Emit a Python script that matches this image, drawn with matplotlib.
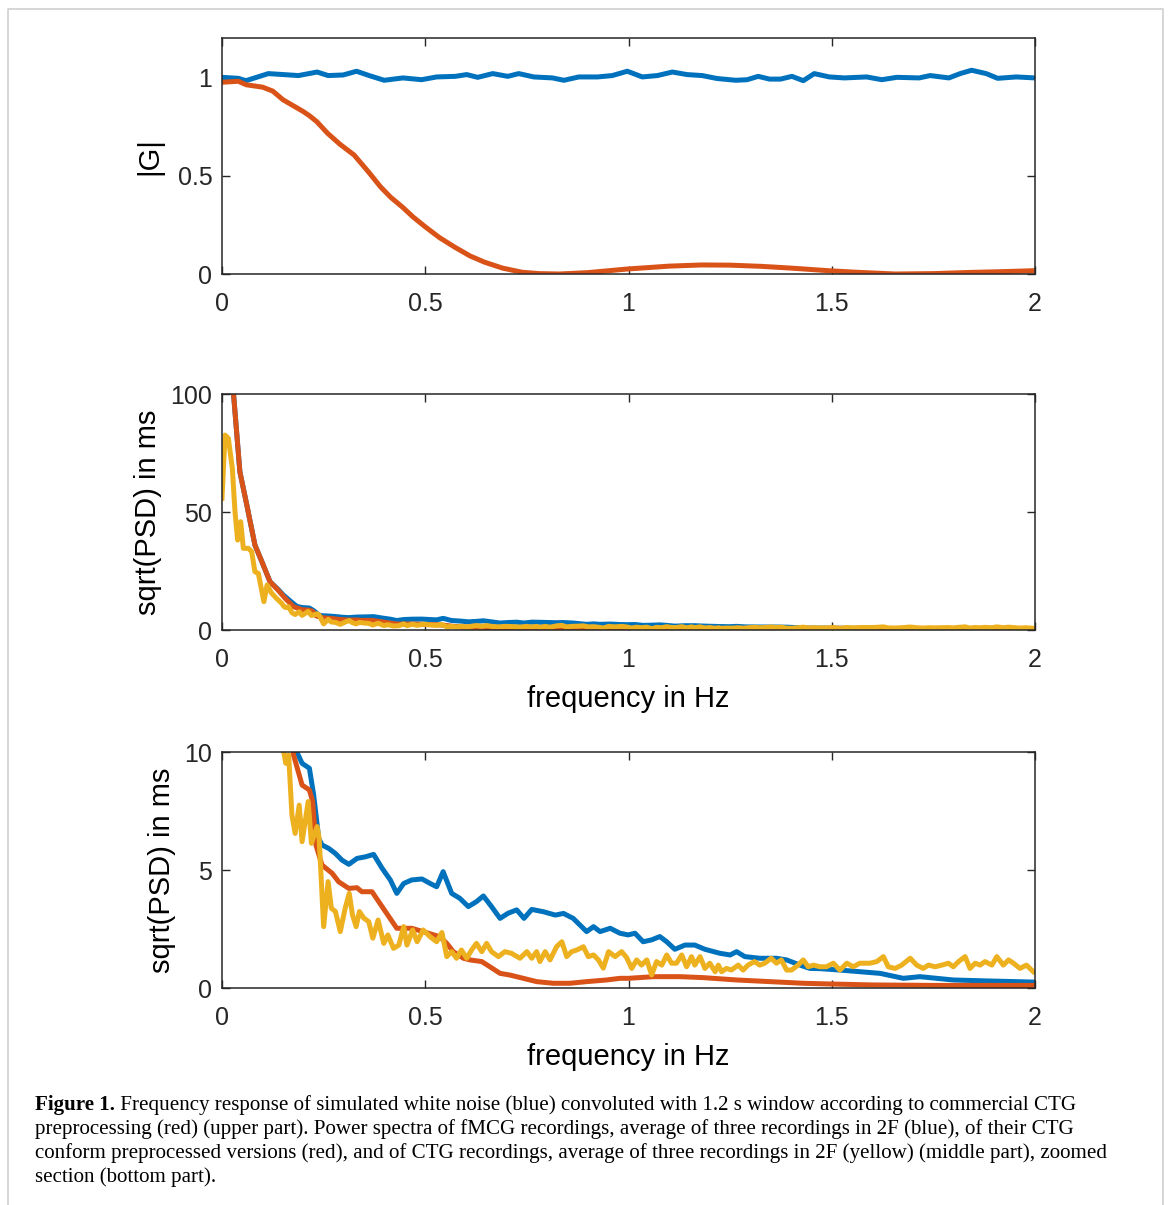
import matplotlib.pyplot as plt
from matplotlib.ticker import FormatStrFormatter
from matplotlib.lines import Line2D

plt.rcParams['font.family'] = ['Liberation Sans', 'DejaVu Sans']

# colours (MATLAB default order)
c_blue = '#0072BD'
c_red = '#D95319'
c_yel = '#EDB120'

# --- upper part: |G| of white noise and of CTG-preprocessed noise
g_noise_f = [0.0, 0.04, 0.059, 0.114, 0.188, 0.234, 0.261, 0.298, 0.331, 0.362, 0.399, 0.445,
             0.491, 0.528, 0.574, 0.602, 0.629, 0.666, 0.703, 0.73, 0.767, 0.813, 0.841, 0.878,
             0.924, 0.96, 0.997, 1.034, 1.071, 1.108, 1.144, 1.181, 1.218, 1.264, 1.292, 1.319,
             1.347, 1.374, 1.402, 1.43, 1.457, 1.494, 1.531, 1.586, 1.623, 1.66, 1.715, 1.742,
             1.788, 1.816, 1.844, 1.88, 1.908, 1.954, 2.0]
g_noise = [1.0, 0.995, 0.983, 1.019, 1.009, 1.027, 1.009, 1.012, 1.031, 1.009, 0.985, 0.997,
           0.988, 1.002, 1.005, 1.014, 1.0, 1.019, 1.005, 1.019, 1.002, 0.997, 0.985, 1.002,
           1.002, 1.009, 1.031, 1.002, 1.009, 1.027, 1.014, 1.009, 0.994, 0.985, 0.988, 1.005,
           0.991, 0.991, 1.005, 0.983, 1.019, 1.002, 0.997, 1.002, 0.988, 1.0, 0.997, 1.009,
           0.997, 1.019, 1.036, 1.019, 0.995, 1.002, 0.997]

g_ctg_f = [0.0, 0.04, 0.06, 0.1, 0.125, 0.15, 0.2, 0.215, 0.233, 0.26, 0.29, 0.325, 0.36,
           0.39, 0.415, 0.444, 0.47, 0.5, 0.535, 0.573, 0.61, 0.646, 0.69, 0.738, 0.78, 0.83,
           0.9, 0.995, 1.1, 1.18, 1.25, 1.326, 1.4, 1.49, 1.56, 1.656, 1.75, 1.84, 1.92, 2.0]
g_ctg = [0.975, 0.98, 0.962, 0.95, 0.93, 0.886, 0.826, 0.805, 0.775, 0.715, 0.66, 0.605, 0.52,
         0.443, 0.39, 0.34, 0.29, 0.24, 0.185, 0.136, 0.092, 0.06, 0.03, 0.009, 0.002, 0.0,
         0.007, 0.025, 0.04, 0.046, 0.045, 0.039, 0.03, 0.017, 0.009, 0.0, 0.002, 0.008, 0.012,
         0.017]

# --- middle / bottom part: sqrt(PSD) in ms
fmcg_f = [0.0, 0.0279, 0.044, 0.061, 0.081, 0.098, 0.118, 0.138, 0.151, 0.17, 0.184, 0.197,
          0.215, 0.2255, 0.238, 0.246, 0.262, 0.279, 0.295, 0.312, 0.332, 0.353, 0.373, 0.394,
          0.414, 0.43, 0.447, 0.467, 0.492, 0.512, 0.528, 0.544, 0.565, 0.585, 0.606, 0.626,
          0.643, 0.663, 0.684, 0.704, 0.725, 0.743, 0.762, 0.791, 0.82, 0.84, 0.864, 0.897,
          0.914, 0.93, 0.955, 0.979, 0.999, 1.016, 1.036, 1.057, 1.077, 1.094, 1.114, 1.139,
          1.163, 1.188, 1.225, 1.25, 1.266, 1.286, 1.323, 1.364, 1.389, 1.422, 1.446, 1.471,
          1.52, 1.619, 1.676, 1.717, 1.758, 1.799, 1.881, 2.0]
fmcg = [150, 101, 67, 53, 36, 29, 20.5, 17.2, 14.8, 12.0, 10.0, 9.52,
        9.31, 8.18, 6.34, 6.06, 5.92, 5.7, 5.42, 5.24, 5.49, 5.56, 5.66, 5.07,
        4.58, 4.01, 4.43, 4.58, 4.62, 4.43, 4.29, 4.93, 4.01, 3.8, 3.45, 3.66,
        3.9, 3.45, 2.95, 3.17, 3.31, 2.95, 3.33, 3.23, 3.09, 3.16, 2.95, 2.39,
        2.6, 2.39, 2.53, 2.32, 2.25, 2.32, 1.96, 2.04, 2.18, 1.96, 1.64, 1.82,
        1.82, 1.64, 1.47, 1.4, 1.54, 1.33, 1.26, 1.26, 1.19, 0.97, 0.83, 0.82,
        0.76, 0.62, 0.41, 0.48, 0.41, 0.34, 0.3, 0.25]

conf_f = [0.0, 0.0279, 0.044, 0.061, 0.081, 0.098, 0.118, 0.138, 0.155, 0.176, 0.197, 0.215,
          0.223, 0.231, 0.246, 0.271, 0.287, 0.312, 0.332, 0.344, 0.369, 0.402, 0.43, 0.467,
          0.508, 0.536, 0.553, 0.569, 0.594, 0.61, 0.639, 0.659, 0.684, 0.708, 0.741, 0.774,
          0.815, 0.856, 0.897, 0.946, 0.979, 1.0, 1.061, 1.127, 1.184, 1.266, 1.348, 1.43,
          1.496, 1.6, 1.75, 2.0]
conf = [150, 101, 67, 53, 36, 29, 20.5, 16.9, 13.5, 9.87, 8.6, 8.39,
        7.9, 6.06, 5.21, 4.86, 4.5, 4.22, 4.25, 4.08, 4.08, 3.24, 2.53, 2.53,
        2.32, 2.17, 1.89, 1.54, 1.26, 1.19, 1.12, 0.9, 0.62, 0.55, 0.41, 0.27,
        0.2, 0.2, 0.27, 0.34, 0.41, 0.41, 0.48, 0.48, 0.44, 0.34, 0.27, 0.2,
        0.17, 0.13, 0.11, 0.11]

ctg_f = [0.0, 0.0074, 0.0156, 0.0254, 0.032, 0.0385, 0.046, 0.0525, 0.0648, 0.073, 0.081,
         0.0894, 0.103, 0.111, 0.122, 0.134, 0.147, 0.152, 0.157, 0.164, 0.172, 0.18, 0.19,
         0.197, 0.212, 0.22, 0.234, 0.239, 0.25, 0.261, 0.269, 0.279, 0.291, 0.303, 0.313,
         0.321, 0.33, 0.338, 0.349, 0.361, 0.371, 0.384, 0.398, 0.408, 0.422, 0.435, 0.447,
         0.455, 0.469, 0.48, 0.495, 0.512, 0.528, 0.541, 0.553, 0.565, 0.577, 0.589, 0.602,
         0.614, 0.626, 0.639, 0.651, 0.663, 0.68, 0.696, 0.712, 0.733, 0.75, 0.762, 0.774,
         0.782, 0.795, 0.807, 0.823, 0.836, 0.848, 0.86, 0.873, 0.889, 0.901, 0.914, 0.926,
         0.938, 0.951, 0.967, 0.983, 0.995, 1.008, 1.02, 1.032, 1.045, 1.057, 1.069, 1.082,
         1.094, 1.106, 1.118, 1.131, 1.143, 1.155, 1.163, 1.176, 1.188, 1.2, 1.213, 1.221,
         1.229, 1.241, 1.253, 1.27, 1.282, 1.294, 1.31, 1.323, 1.335, 1.351, 1.364, 1.376,
         1.389, 1.401, 1.417, 1.43, 1.442, 1.455, 1.471, 1.487, 1.504, 1.52, 1.537, 1.553,
         1.569, 1.594, 1.611, 1.627, 1.639, 1.656, 1.672, 1.693, 1.709, 1.725, 1.738, 1.754,
         1.771, 1.787, 1.799, 1.812, 1.828, 1.84, 1.853, 1.865, 1.877, 1.894, 1.906, 1.922,
         1.935, 1.947, 1.963, 1.979, 1.996]
ctg = [55.8, 82.6, 81.2, 68.5, 50.1, 38.1, 45.9, 34.6, 34.6, 33.2, 24.7,
       24.0, 12.0, 19.1, 15.6, 13.4, 11.3, 10.0, 9.52, 9.87, 7.33, 6.55, 7.75,
       6.2, 7.9, 6.13, 6.84, 6.34, 2.6, 4.51, 3.38, 3.24, 2.39, 3.38, 4.01,
       3.1, 2.6, 3.24, 2.96, 2.81, 2.11, 2.88, 1.89, 2.25, 1.68, 1.82, 2.6,
       1.82, 2.46, 1.96, 2.46, 2.17, 1.96, 2.35, 1.33, 1.54, 1.26, 1.61, 1.26,
       1.61, 1.89, 1.54, 1.89, 1.54, 1.33, 1.54, 1.47, 1.26, 1.54, 1.26, 1.54,
       1.12, 1.54, 1.19, 1.75, 1.96, 1.33, 1.54, 1.61, 1.75, 1.33, 1.4, 1.19,
       0.84, 1.54, 1.33, 1.54, 1.3, 0.83, 1.19, 0.97, 1.19, 0.55, 1.12, 0.97,
       1.4, 1.05, 1.05, 1.4, 0.9, 1.33, 0.97, 1.33, 0.83, 1.05, 0.69, 0.97,
       0.69, 0.83, 0.76, 0.97, 0.76, 0.97, 1.12, 0.97, 1.05, 1.26, 1.05, 1.19,
       0.76, 0.76, 0.97, 1.19, 0.9, 0.97, 0.9, 0.9, 1.05, 0.76, 1.05, 0.9,
       1.05, 1.05, 1.12, 1.33, 0.9, 0.83, 0.97, 1.26, 0.97, 0.83, 0.97, 0.9,
       0.97, 1.05, 0.9, 1.12, 1.33, 0.83, 1.05, 0.97, 1.12, 0.97, 1.33, 0.97,
       1.19, 1.05, 0.83, 0.97, 0.69]

xticks = [0, 0.5, 1, 1.5, 2]

caption_lines = [
    "Frequency response of simulated white noise (blue) convoluted with 1.2 s window according to commercial CTG",
    "preprocessing (red) (upper part). Power spectra of fMCG recordings, average of three recordings in 2F (blue), of their CTG",
    "conform preprocessed versions (red), and of CTG recordings, average of three recordings in 2F (yellow) (middle part), zoomed",
    "section (bottom part).",
]

W, H = 1170, 1205
fig = plt.figure(figsize=(W / 100, H / 100), dpi=100)

def px_axes(top, bottom):
    return [222 / W, 1 - bottom / H, 813 / W, (bottom - top) / H]

ax1 = fig.add_axes(px_axes(38, 274))
ax2 = fig.add_axes(px_axes(394, 630))
ax3 = fig.add_axes(px_axes(752, 988))

lw = 3.6
ax1.plot(g_noise_f, g_noise, color=c_blue, lw=lw)
ax1.plot(g_ctg_f, g_ctg, color=c_red, lw=lw)
ax1.set_ylim(0, 1.2)
ax1.set_yticks([0, 0.5, 1])
ax1.set_ylabel('|G|', fontsize=21, labelpad=10)

for ax in (ax2, ax3):
    ax.plot(fmcg_f, fmcg, color=c_blue, lw=lw)
    ax.plot(conf_f, conf, color=c_red, lw=lw)
    ax.plot(ctg_f, ctg, color=c_yel, lw=lw)
    ax.set_ylabel('sqrt(PSD) in ms', fontsize=21, labelpad=6)
    ax.set_xlabel('frequency in Hz', fontsize=21, labelpad=9)
ax2.set_ylim(0, 100)
ax2.set_yticks([0, 50, 100])
ax3.set_ylim(0, 10)
ax3.set_yticks([0, 5, 10])

for ax in (ax1, ax2, ax3):
    ax.set_xlim(0, 2)
    ax.set_xticks(xticks)
    ax.xaxis.set_major_formatter(FormatStrFormatter('%g'))
    ax.yaxis.set_major_formatter(FormatStrFormatter('%g'))
    ax.tick_params(direction='in', top=True, right=True, length=6, width=1,
                   labelsize=18, colors='#262626')
    ax.tick_params(axis='x', pad=13)
    ax.tick_params(axis='y', pad=7)
    for s in ax.spines.values():
        s.set_color('#262626')
        s.set_linewidth(1.1)

# caption
fs_cap = 15.1
y0 = 1 - 1110 / H
bold = fig.text(35 / W, y0, 'Figure 1.', fontsize=fs_cap, weight='bold',
                family='Liberation Serif', va='baseline')
ax3.annotate(' ' + caption_lines[0], xy=(1, 0), xycoords=bold, va='bottom', ha='left',
             fontsize=fs_cap, family='Liberation Serif', annotation_clip=False)
for i, line in enumerate(caption_lines[1:], start=1):
    fig.text(35 / W, 1 - (1110 + 24 * i) / H, line, fontsize=fs_cap,
             family='Liberation Serif', va='baseline')

# light grey frame round the figure
fx = [8 / W, 8 / W, 1163 / W, 1163 / W]
fy = [0, 1 - 9 / H, 1 - 9 / H, 0]
fig.add_artist(Line2D(fx, fy, color='#cfcfcf', lw=1.2, transform=fig.transFigure))

fig.savefig('out.png', dpi=100)
